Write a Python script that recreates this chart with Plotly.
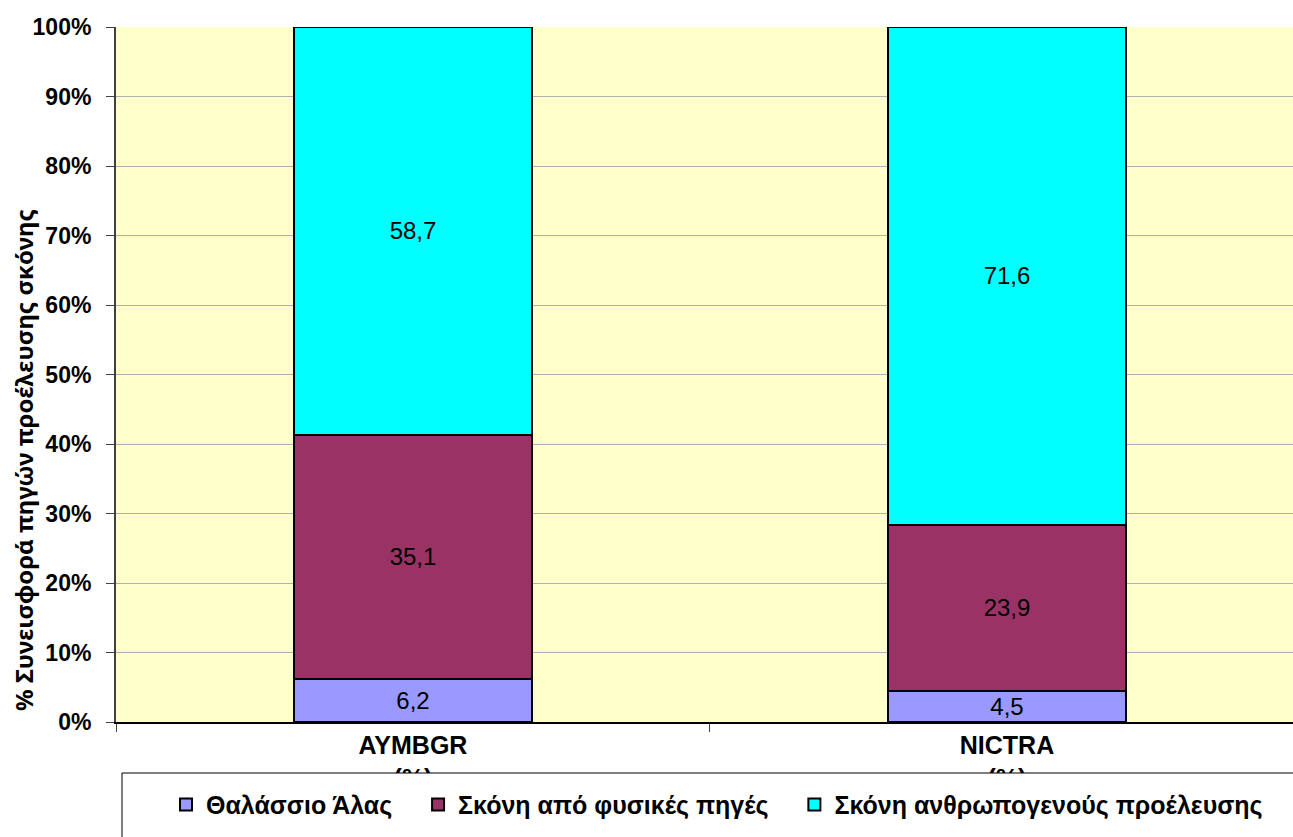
import plotly.graph_objects as go

# Stations (x categories)
stations = ["AYMBGR<br>(%)", "NICTRA<br>(%)"]

# Contribution of each dust source (%)
sea_salt = [6.2, 4.5]
natural_dust = [35.1, 23.9]
anthropogenic_dust = [58.7, 71.6]

series_names = ["Θαλάσσιο Άλας", "Σκόνη από φυσικές πηγές", "Σκόνη ανθρωπογενούς προέλευσης"]
series_values = [sea_salt, natural_dust, anthropogenic_dust]
series_colors = ["#9999FF", "#993366", "#00FFFF"]

y_ticks = [0, 10, 20, 30, 40, 50, 60, 70, 80, 90, 100]
y_tick_labels = [f"{v}%" for v in y_ticks]

FONT = "Liberation Sans, Arial"
PAD = "\u00a0" * 3  # extra spacing between legend entries


def fmt(v):
    # comma as decimal separator
    return f"{v:.1f}".replace(".", ",")


fig = go.Figure()

for i, (name, vals, color) in enumerate(zip(series_names, series_values, series_colors)):
    fig.add_trace(go.Bar(
        x=stations,
        y=vals,
        name=name + (PAD if i < len(series_names) - 1 else ""),
        marker=dict(color=color, line=dict(color="black", width=2)),
        text=[fmt(v) for v in vals],
        textposition="inside",
        insidetextanchor="middle",
        constraintext="none",
        textfont=dict(family=FONT, size=24, color="black"),
        width=0.4,
    ))

fig.update_layout(
    barmode="stack",
    width=1293,
    height=837,
    paper_bgcolor="white",
    plot_bgcolor="#FFFFCC",
    margin=dict(l=116, r=0, t=27, b=115),
    font=dict(family=FONT, color="black"),
    xaxis=dict(
        type="category",
        range=[-0.5, 1.4815],  # plot runs off the right edge like the original
        tickson="boundaries",
        ticks="outside",
        ticklen=8,
        tickcolor="#404040",
        showline=True,
        linecolor="black",
        linewidth=2,
        showgrid=False,
        tickfont=dict(family=FONT, size=25, color="black", weight="bold"),
    ),
    yaxis=dict(
        range=[0, 100],
        tickvals=y_ticks,
        ticktext=y_tick_labels,
        ticks="outside",
        ticklen=8,
        ticklabelstandoff=10,
        tickcolor="#404040",
        showline=True,
        linecolor="#404040",
        linewidth=2,
        showgrid=True,
        gridcolor="#B0B0B0",
        gridwidth=1,
        zeroline=False,
        tickfont=dict(family=FONT, size=23, color="black", weight="bold"),
    ),
    legend=dict(
        orientation="h",
        x=0.5106,
        xanchor="center",
        y=-0.119,
        yanchor="middle",
        bgcolor="rgba(0,0,0,0)",
        font=dict(family=FONT, size=25, color="black", weight="bold"),
        traceorder="normal",
        itemwidth=30,
    ),
    annotations=[
        # y axis title, placed lower than the plot centre as in the original
        dict(text="% Συνεισφορά πηγών προέλευσης σκόνης",
             xref="paper", yref="paper", x=-0.0782, y=0.377,
             xanchor="center", yanchor="middle", textangle=-90,
             showarrow=False, borderpad=0,
             font=dict(family="Noto Sans", size=24, color="black", weight="bold")),
    ],
    shapes=[
        # white legend box overlapping the second line of the category labels
        dict(type="rect", xref="paper", yref="paper",
             x0=0.0051, x1=1.2, y0=-0.0734, y1=-0.4,
             fillcolor="white", line=dict(color="black", width=1),
             layer="above"),
    ],
)

# drop the default page margin so the figure fills the window
fig.write_html("out.html", config={"displayModeBar": False},
               post_script="document.body.style.margin='0px';")
